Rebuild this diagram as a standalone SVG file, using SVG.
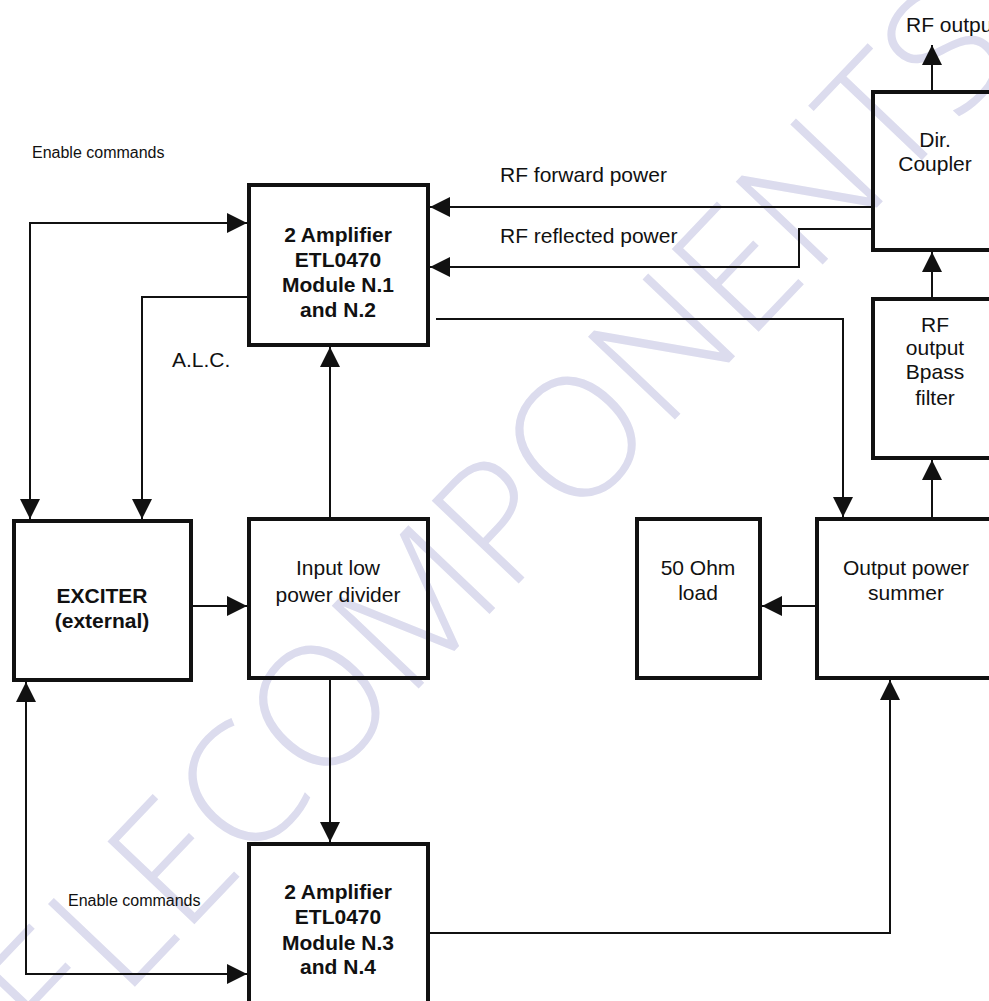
<svg xmlns="http://www.w3.org/2000/svg" width="989" height="1001" viewBox="0 0 989 1001">
<style>
  .box{fill:none;stroke:#111;stroke-width:4}
  .ln{fill:none;stroke:#111;stroke-width:2}
  .t{font-family:"Liberation Sans",Arial,sans-serif;font-size:21px;fill:#111;text-anchor:middle}
  .b{font-weight:bold}
  .s{font-family:"Liberation Sans",Arial,sans-serif;font-size:16px;fill:#111}
  .l{font-family:"Liberation Sans",Arial,sans-serif;font-size:21px;fill:#111}
  .wm{font-family:"Open Sans","Liberation Sans",sans-serif;font-weight:300;font-size:168px;fill:#dcdcee;text-anchor:middle}
</style>
<defs>
  <marker id="ah" markerUnits="userSpaceOnUse" markerWidth="20" markerHeight="20" viewBox="0 0 20 20" refX="20" refY="10" orient="auto-start-reverse">
    <path d="M0,0 L20,10 L0,20 Z" fill="#111"/>
  </marker>
</defs>
<rect width="989" height="1001" fill="#fff"/>
<g id="watermark">
  <text class="wm" transform="translate(465,553) rotate(-46.4)" x="0" y="60">TELECOMPONENTS</text>
</g>
<g id="connectors">
  <path class="ln" d="M30,519 L30,223 L247,223" marker-start="url(#ah)" marker-end="url(#ah)"/>
  <path class="ln" d="M247,297 L142,297 L142,519" marker-end="url(#ah)"/>
  <path class="ln" d="M193,606 L247,606" marker-end="url(#ah)"/>
  <path class="ln" d="M330,517 L330,347" marker-end="url(#ah)"/>
  <path class="ln" d="M330,680 L330,842" marker-end="url(#ah)"/>
  <path class="ln" d="M26,682 L26,974 L247,974" marker-start="url(#ah)" marker-end="url(#ah)"/>
  <path class="ln" d="M436,319 L843,319 L843,517" marker-end="url(#ah)"/>
  <path class="ln" d="M430,933 L890,933 L890,680" marker-end="url(#ah)"/>
  <path class="ln" d="M815,606 L762,606" marker-end="url(#ah)"/>
  <path class="ln" d="M932,517 L932,460" marker-end="url(#ah)"/>
  <path class="ln" d="M932,297 L932,252" marker-end="url(#ah)"/>
  <path class="ln" d="M932,90 L932,45" marker-end="url(#ah)"/>
  <path class="ln" d="M871,207 L430,207" marker-end="url(#ah)"/>
  <path class="ln" d="M875,229 L799,229 L799,267 L430,267" marker-end="url(#ah)"/>
</g>
<g id="labels">
  <text class="s" x="32" y="158">Enable commands</text>
  <text class="s" x="68" y="906">Enable commands</text>
  <text class="l" x="500" y="182">RF forward power</text>
  <text class="l" x="500" y="243">RF reflected power</text>
  <text class="l" x="906" y="32">RF output</text>
  <text class="l" x="172" y="367">A.L.C.</text>
</g>
<g id="amp1">
  <rect class="box" x="249" y="185" width="179" height="160"/>
  <text class="t b" x="338" y="242">2 Amplifier</text>
  <text class="t b" x="338" y="267">ETL0470</text>
  <text class="t b" x="338" y="292">Module N.1</text>
  <text class="t b" x="338" y="317">and N.2</text>
</g>
<g id="exciter">
  <rect class="box" x="14" y="521" width="177" height="159"/>
  <text class="t b" x="102" y="603">EXCITER</text>
  <text class="t b" x="102" y="628">(external)</text>
</g>
<g id="divider">
  <rect class="box" x="249" y="519" width="179" height="159"/>
  <text class="t" x="338" y="575">Input low</text>
  <text class="t" x="338" y="602">power divider</text>
</g>
<g id="amp2">
  <rect class="box" x="249" y="844" width="179" height="170"/>
  <text class="t b" x="338" y="899">2 Amplifier</text>
  <text class="t b" x="338" y="924">ETL0470</text>
  <text class="t b" x="338" y="950">Module N.3</text>
  <text class="t b" x="338" y="974">and N.4</text>
</g>
<g id="load">
  <rect class="box" x="637" y="519" width="123" height="159"/>
  <text class="t" x="698" y="575">50 Ohm</text>
  <text class="t" x="698" y="600">load</text>
</g>
<g id="summer">
  <rect class="box" x="817" y="519" width="190" height="159"/>
  <text class="t" x="906" y="575">Output power</text>
  <text class="t" x="906" y="600">summer</text>
</g>
<g id="filter">
  <rect class="box" x="873" y="299" width="190" height="159"/>
  <text class="t" x="935" y="332">RF</text>
  <text class="t" x="935" y="355">output</text>
  <text class="t" x="935" y="379">Bpass</text>
  <text class="t" x="935" y="405">filter</text>
</g>
<g id="coupler">
  <rect class="box" x="873" y="92" width="190" height="158"/>
  <text class="t" x="935" y="147">Dir.</text>
  <text class="t" x="935" y="171">Coupler</text>
</g>
</svg>
